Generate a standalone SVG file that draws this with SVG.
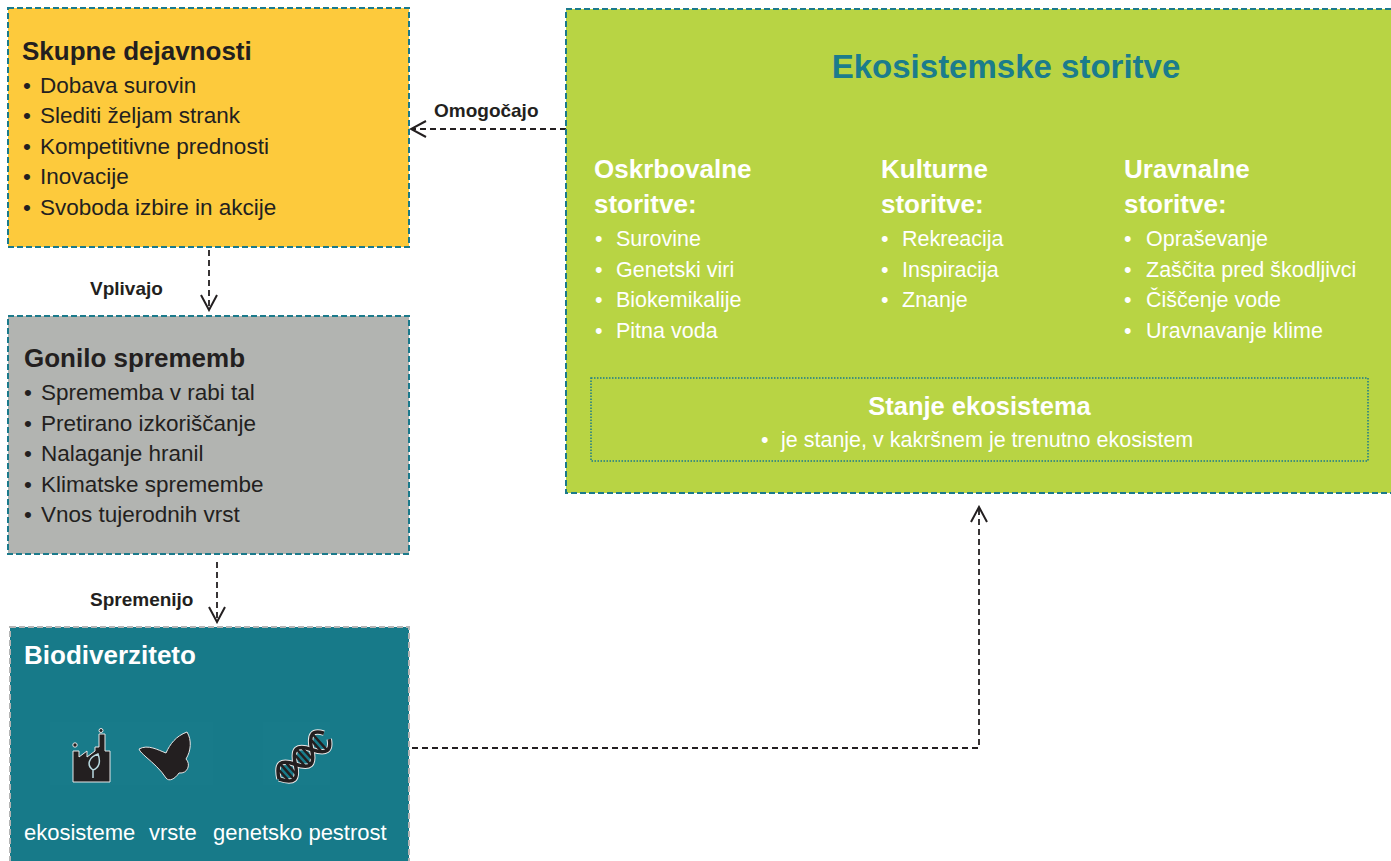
<svg xmlns="http://www.w3.org/2000/svg" width="1391" height="861" viewBox="0 0 1391 861">
<defs>
<style>
text{font-family:"Liberation Sans",Arial,sans-serif;}
.box{stroke:#1b7a8b;stroke-width:2;stroke-dasharray:6 3;}
.hd{font-weight:bold;font-size:26px;fill:#231f20;}
.it{font-size:22.5px;fill:#231f20;}
.wh{fill:#ffffff;}
.col{font-weight:bold;font-size:26px;fill:#ffffff;}
.ci{font-size:21.5px;fill:#ffffff;}
.lbl{font-weight:bold;font-size:19px;fill:#231f20;}
.con{fill:none;stroke:#231f20;stroke-width:1.8;stroke-dasharray:6 4;}
.ico{fill:#231f20;stroke:#e8e8e8;stroke-width:1;}
</style>
<marker id="arr" viewBox="0 0 20 20" refX="18" refY="10" markerWidth="20" markerHeight="20" markerUnits="userSpaceOnUse" orient="auto">
<path d="M3,2 L18,10 L3,18" fill="none" stroke="#231f20" stroke-width="2"/>
</marker>
</defs>
<rect width="1391" height="861" fill="#ffffff"/>

<g id="connectors">
<line class="con" x1="566" y1="129" x2="411" y2="129" marker-end="url(#arr)"/>
<line class="con" x1="209" y1="250" x2="209" y2="310" marker-end="url(#arr)"/>
<line class="con" x1="217" y1="562" x2="217" y2="622" marker-end="url(#arr)"/>
<polyline class="con" points="412,748 979,748 979,507" marker-end="url(#arr)"/>
<text class="lbl" x="434" y="117">Omogočajo</text>
<text class="lbl" x="90" y="295">Vplivajo</text>
<text class="lbl" x="90" y="606">Spremenijo</text>
</g>

<g id="skupne-dejavnosti">
<rect class="box" x="8" y="8" width="401" height="239" fill="#fdca3c"/>
<text class="hd" x="22" y="60">Skupne dejavnosti</text>
<text class="it"><tspan x="23" y="92.5">•</tspan><tspan x="40" y="92.5">Dobava surovin</tspan></text>
<text class="it"><tspan x="23" y="123">•</tspan><tspan x="40" y="123">Slediti željam strank</tspan></text>
<text class="it"><tspan x="23" y="153.5">•</tspan><tspan x="40" y="153.5">Kompetitivne prednosti</tspan></text>
<text class="it"><tspan x="23" y="184">•</tspan><tspan x="40" y="184">Inovacije</tspan></text>
<text class="it"><tspan x="23" y="214.5">•</tspan><tspan x="40" y="214.5">Svoboda izbire in akcije</tspan></text>
</g>

<g id="gonilo-sprememb">
<rect class="box" x="8" y="316" width="401" height="238" fill="#b2b4b1"/>
<text class="hd" x="24" y="367">Gonilo sprememb</text>
<text class="it"><tspan x="24" y="400">•</tspan><tspan x="41" y="400">Sprememba v rabi tal</tspan></text>
<text class="it"><tspan x="24" y="430.5">•</tspan><tspan x="41" y="430.5">Pretirano izkoriščanje</tspan></text>
<text class="it"><tspan x="24" y="461">•</tspan><tspan x="41" y="461">Nalaganje hranil</tspan></text>
<text class="it"><tspan x="24" y="491.5">•</tspan><tspan x="41" y="491.5">Klimatske spremembe</tspan></text>
<text class="it"><tspan x="24" y="522">•</tspan><tspan x="41" y="522">Vnos tujerodnih vrst</tspan></text>
</g>

<g id="biodiverziteto">
<rect x="10" y="627" width="399" height="245" fill="#177a89" stroke="#b4b4b4" stroke-width="2" stroke-dasharray="6 3"/>
<rect x="50" y="722" width="163" height="63" fill="#187b8a"/>
<rect x="263" y="722" width="67" height="63" fill="#187b8a"/>
<text class="hd wh" x="24" y="664" style="fill:#ffffff">Biodiverziteto</text>
<!-- factory icon -->
<path class="ico" d="M73,782 V751 H79 V757 L87,751 V757 L95,751 V747 H99 V734 H105 V751 H110 V782 Z"/>
<circle cx="75" cy="745" r="2.2" class="ico"/>
<circle cx="101" cy="730.5" r="2" class="ico"/>
<path d="M93,778 V770 M93,770 C86,765 89,757 98,754 C101,762 99,768 93,770 Z" fill="none" stroke="#b9d9df" stroke-width="1.5"/>
<!-- butterfly icon -->
<path class="ico" d="M139,749 C148,744 158,750 166,753 C170,744 176,736 187,732 C192,740 191,751 186,759 C191,764 188,774 179,773 C175,779 169,782 166,778 C161,770 153,763 146,757 C143,754 140,752 139,749 Z"/>
<!-- DNA icon -->
<g transform="translate(279,779) rotate(-42)">
<path d="M0,0 C8,-14 14,-14 22,0 S36,14 44,0 S58,-14 64,-4" fill="none" stroke="#e8e8e8" stroke-width="5.5"/>
<path d="M0,0 C8,14 14,14 22,0 S36,-14 44,0 S58,14 64,4" fill="none" stroke="#e8e8e8" stroke-width="5.5"/>
<path d="M0,0 C8,-14 14,-14 22,0 S36,14 44,0 S58,-14 64,-4" fill="none" stroke="#231f20" stroke-width="3.5"/>
<path d="M0,0 C8,14 14,14 22,0 S36,-14 44,0 S58,14 64,4" fill="none" stroke="#231f20" stroke-width="3.5"/>
<g stroke="#231f20" stroke-width="2.5">
<line x1="6" y1="-7" x2="6" y2="7"/><line x1="11" y1="-10" x2="11" y2="10"/><line x1="16" y1="-8" x2="16" y2="8"/>
<line x1="28" y1="-7" x2="28" y2="7"/><line x1="33" y1="-10" x2="33" y2="10"/><line x1="38" y1="-8" x2="38" y2="8"/>
<line x1="50" y1="-7" x2="50" y2="7"/><line x1="55" y1="-10" x2="55" y2="10"/>
</g>
</g>
<text class="ci" x="24" y="840" style="font-size:22px">ekosisteme</text>
<text class="ci" x="149" y="840" style="font-size:22px">vrste</text>
<text class="ci" x="213" y="840" style="font-size:22px">genetsko pestrost</text>
</g>

<g id="ekosistemske-storitve">
<rect class="box" x="566" y="9" width="830" height="484" fill="#b8d444"/>
<text x="1006" y="78" text-anchor="middle" style="font-weight:bold;font-size:33px;fill:#1b7c8c">Ekosistemske storitve</text>
<text class="col"><tspan x="594" y="178">Oskrbovalne</tspan><tspan x="594" y="213">storitve:</tspan></text>
<text class="ci"><tspan x="595" y="246">•</tspan><tspan x="616" y="246">Surovine</tspan></text>
<text class="ci"><tspan x="595" y="276.5">•</tspan><tspan x="616" y="276.5">Genetski viri</tspan></text>
<text class="ci"><tspan x="595" y="307">•</tspan><tspan x="616" y="307">Biokemikalije</tspan></text>
<text class="ci"><tspan x="595" y="337.5">•</tspan><tspan x="616" y="337.5">Pitna voda</tspan></text>
<text class="col"><tspan x="881" y="178">Kulturne</tspan><tspan x="881" y="213">storitve:</tspan></text>
<text class="ci"><tspan x="881" y="246">•</tspan><tspan x="902" y="246">Rekreacija</tspan></text>
<text class="ci"><tspan x="881" y="276.5">•</tspan><tspan x="902" y="276.5">Inspiracija</tspan></text>
<text class="ci"><tspan x="881" y="307">•</tspan><tspan x="902" y="307">Znanje</tspan></text>
<text class="col"><tspan x="1124" y="178">Uravnalne</tspan><tspan x="1124" y="213">storitve:</tspan></text>
<text class="ci"><tspan x="1124" y="246">•</tspan><tspan x="1146" y="246">Opraševanje</tspan></text>
<text class="ci"><tspan x="1124" y="276.5">•</tspan><tspan x="1146" y="276.5">Zaščita pred škodljivci</tspan></text>
<text class="ci"><tspan x="1124" y="307">•</tspan><tspan x="1146" y="307">Čiščenje vode</tspan></text>
<text class="ci"><tspan x="1124" y="337.5">•</tspan><tspan x="1146" y="337.5">Uravnavanje klime</tspan></text>
</g>

<g id="stanje-ekosistema">
<rect x="591" y="378" width="777" height="83" fill="none" stroke="#1b7a8b" stroke-width="1.5" stroke-dasharray="1.5 1.5"/>
<text x="979.5" y="415" text-anchor="middle" style="font-weight:bold;font-size:25.5px;fill:#ffffff">Stanje ekosistema</text>
<text class="ci"><tspan x="761" y="447">•</tspan><tspan x="781" y="447">je stanje, v kakršnem je trenutno ekosistem</tspan></text>
</g>
</svg>
